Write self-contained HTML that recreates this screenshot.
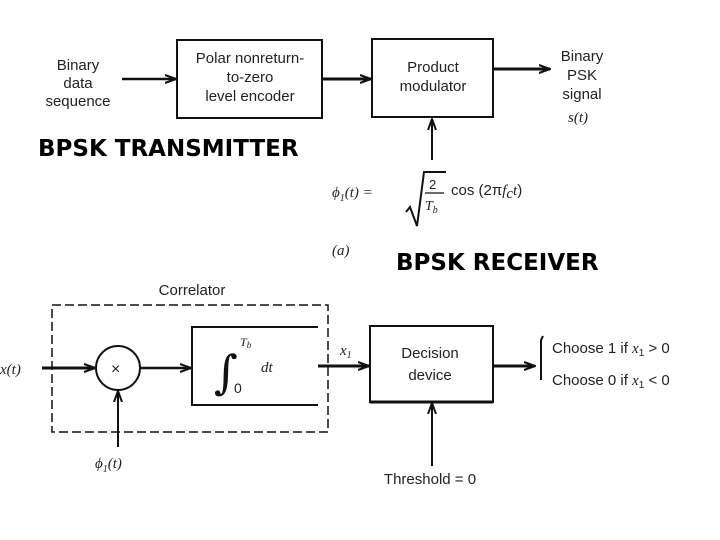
<!DOCTYPE html>
<html><head><meta charset="utf-8"><style>
body{margin:0;background:#fff;}
svg{display:block;font-family:"Liberation Sans",sans-serif;}
.t{font-size:15px;fill:#222;}
.m{font-family:"Liberation Serif",serif;font-style:italic;font-size:15px;fill:#222;}
.b{font-family:"DejaVu Sans",sans-serif;font-weight:bold;font-size:23px;fill:#000;}
</style></head><body>
<svg width="720" height="540" viewBox="0 0 720 540">
<defs><marker id="a" markerWidth="12" markerHeight="10" refX="11" refY="5" orient="auto" markerUnits="userSpaceOnUse"><path d="M0,1 L11,5 L0,9" fill="none" stroke="#111" stroke-width="2"/></marker></defs>
<g stroke="#111" stroke-width="2" fill="none">
<rect x="177" y="40" width="145" height="78"/>
<rect x="372" y="39" width="121" height="78"/>
<line x1="122" y1="79" x2="176" y2="79" marker-end="url(#a)" stroke-width="2.5"/>
<line x1="322" y1="79" x2="371" y2="79" marker-end="url(#a)" stroke-width="3"/>
<line x1="493" y1="69" x2="550" y2="69" marker-end="url(#a)" stroke-width="3"/>
<line x1="432" y1="160" x2="432" y2="119" marker-end="url(#a)"/>
<rect x="52" y="305" width="276" height="127" stroke-dasharray="9,4" stroke-width="1.5"/>
<circle cx="118" cy="368" r="22"/>
<path d="M318,327 H192 V405 H318"/>
<rect x="370" y="326" width="123" height="76"/>
<line x1="42" y1="368" x2="95" y2="368" marker-end="url(#a)" stroke-width="3"/>
<line x1="140" y1="368" x2="191" y2="368" marker-end="url(#a)" stroke-width="2.5"/>
<line x1="318" y1="366" x2="369" y2="366" marker-end="url(#a)" stroke-width="3"/>
<line x1="493" y1="366" x2="535" y2="366" marker-end="url(#a)" stroke-width="3"/>
<line x1="118" y1="447" x2="118" y2="391" marker-end="url(#a)"/>
<line x1="432" y1="466" x2="432" y2="403" marker-end="url(#a)"/>
<line x1="370" y1="402" x2="493" y2="402" stroke-width="3"/>
<path d="M406,212 L410,207 L417,226 L424,172 H446"/>
<path d="M543,336 L541,340 V380"/>
</g>
<g class="t" text-anchor="middle">
<text x="78" y="70">Binary</text><text x="78" y="88">data</text><text x="78" y="106">sequence</text>
<text x="250" y="63">Polar nonreturn-</text><text x="250" y="82">to-zero</text><text x="250" y="101">level encoder</text>
<text x="433" y="72">Product</text><text x="433" y="91">modulator</text>
<text x="582" y="61">Binary</text><text x="582" y="80">PSK</text><text x="582" y="99">signal</text>
<text x="192" y="295">Correlator</text>
<text x="430" y="358">Decision</text><text x="430" y="380">device</text>
<text x="430" y="484">Threshold = 0</text>
</g>
<text class="m" x="568" y="122">s(t)</text>
<text class="b" x="38" y="156">BPSK TRANSMITTER</text>
<text class="b" x="396" y="270">BPSK RECEIVER</text>
<text class="m" x="332" y="197">ϕ<tspan font-size="10" dy="4">1</tspan><tspan dy="-4">(t)  =</tspan></text>
<text class="t" x="429" y="189" style="font-size:13px">2</text>
<line x1="425" y1="193" x2="444" y2="193" stroke="#111" stroke-width="1.2"/>
<text class="m" x="425" y="210" style="font-size:14px">T<tspan font-size="10" dy="3">b</tspan></text>
<text class="t" x="451" y="195">cos (2π<tspan class="m">f</tspan><tspan font-size="10" dy="3" class="m">c</tspan><tspan dy="-3" class="m">t</tspan>)</text>
<text class="m" x="332" y="255">(a)</text>
<text class="m" x="0" y="374">x(t)</text>
<text class="t" x="111" y="374" style="font-size:16px">×</text>
<text class="m" x="95" y="468">ϕ<tspan font-size="10" dy="4">1</tspan><tspan dy="-4">(t)</tspan></text>
<text x="214" y="388" style="font-family:'DejaVu Serif',serif;font-size:46px;fill:#111">∫</text>
<text class="m" x="240" y="346" style="font-size:12px">T<tspan font-size="9" dy="2">b</tspan></text>
<text class="t" x="234" y="393" style="font-size:14px">0</text>
<text class="m" x="261" y="372">dt</text>
<text class="m" x="340" y="355">x<tspan font-size="10" dy="3">1</tspan></text>
<text class="t" x="552" y="353">Choose 1 if <tspan class="m">x</tspan><tspan font-size="10" dy="3">1</tspan><tspan dy="-3"> &gt; 0</tspan></text>
<text class="t" x="552" y="385">Choose 0 if <tspan class="m">x</tspan><tspan font-size="10" dy="3">1</tspan><tspan dy="-3"> &lt; 0</tspan></text>
</svg>
</body></html>
